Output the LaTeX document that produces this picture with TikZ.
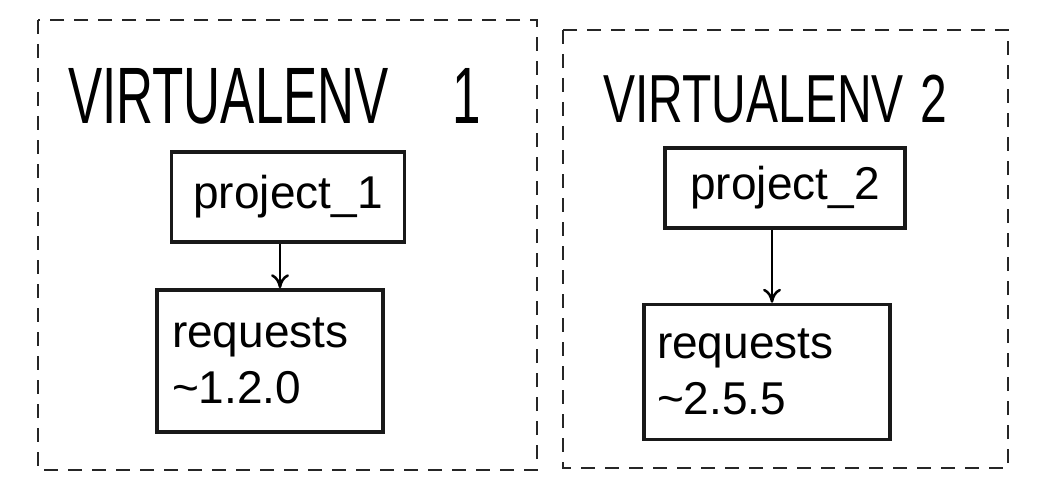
\documentclass[tikz,border=0pt]{standalone}
\usepackage{fontspec}
\setmainfont{Liberation Sans}
\usetikzlibrary{arrows.meta}
\tikzset{
  envbox/.style={draw=black!85, line width=2.2pt, dash pattern=on 14pt off 10pt},
  box/.style={draw=black!90, line width=3.5pt, inner sep=0pt},
  lbl/.style={font=\fontsize{46}{56}\selectfont},
  ttl/.style={font=\fontsize{80}{90}\selectfont, anchor=base west, inner sep=0pt},
  arr/.style={line width=2.5pt, -{To[length=14pt,width=18pt,line width=2.5pt]}}
}
\newcommand{\tld}{\textasciitilde}
\begin{document}
\begin{tikzpicture}[x=1pt,y=-1pt]
\useasboundingbox (0,0) rectangle (1054,500);
\draw[envbox] (38,20) rectangle (537,470);
\draw[envbox] (563,30) rectangle (1008,468);
\node[ttl] (t1) at (68,124) {\scalebox{0.64}[1]{VIRTUALENV\hspace{100pt}1}};
\node[ttl] (t2) at (603,122) {\scalebox{0.6}[0.85]{VIRTUALENV\hspace{28pt}2}};
\node[box, lbl, minimum width=233, minimum height=90] (p1) at (288,197) {project\_1};
\node[box, lbl, minimum width=226, minimum height=142, text width=196, align=left] (r1) at (270,361) {requests\\\tld1.2.0};
\node[box, lbl, minimum width=240, minimum height=80] (p2) at (785,188) {project\_2};
\node[box, lbl, minimum width=246, minimum height=135, text width=220, align=left] (r2) at (767,372) {requests\\\tld2.5.5};
\draw[arr] (p1.south -| 280,0) -- (r1.north -| 280,0);
\draw[arr] (p2.south -| 772,0) -- (r2.north -| 772,0);
\end{tikzpicture}
\end{document}
